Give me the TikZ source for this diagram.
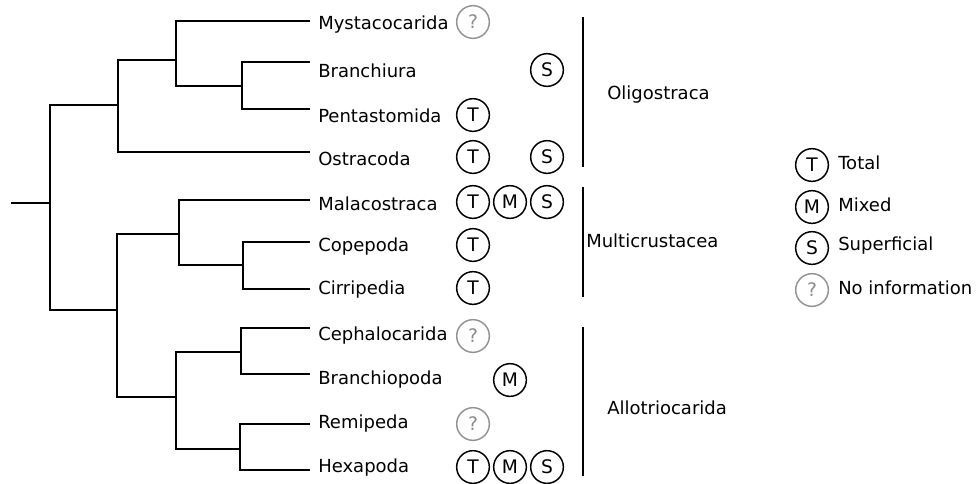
\documentclass[tikz,border=0pt]{standalone}
\usepackage{fontspec}
\setmainfont{DejaVu Sans}
\begin{document}
\begin{tikzpicture}[x=0.75pt,y=-0.75pt,
  tree/.style={line width=1.5pt,line cap=rect},
  taxon/.style={anchor=west,inner sep=0pt,font=\fontsize{13.5}{16}\selectfont},
  mk/.style={circle,draw,line width=1.1pt,minimum size=24.5pt,inner sep=0pt,font=\fontsize{14}{16}\selectfont},
  unk/.style={mk,draw=gray!85,text=gray!90},
  bar/.style={line width=2.2pt},
  clade/.style={anchor=west,inner sep=0pt,font=\fontsize{13.5}{16}\selectfont},
  leg/.style={anchor=west,inner sep=0pt,font=\fontsize{13.5}{16}\selectfont}]
\useasboundingbox (0,0) rectangle (977,483);
% tree coordinates
\coordinate (rt) at (12,203);
\coordinate (n0) at (50,203);
\coordinate (O) at (118,105);
\coordinate (Pc) at (117,310);
\coordinate (A) at (176,60);
\coordinate (B) at (242,86);
\coordinate (Mc) at (179,234);
\coordinate (MM) at (243,265);
\coordinate (Al) at (176,397);
\coordinate (Al1) at (241,352);
\coordinate (Al2) at (240,449);
\coordinate (lMys) at (309,21);
\coordinate (lBra) at (309,62);
\coordinate (lPen) at (309,109);
\coordinate (lOst) at (309,152);
\coordinate (lMal) at (309,200);
\coordinate (lCop) at (309,242);
\coordinate (lCir) at (309,289);
\coordinate (lCep) at (309,328);
\coordinate (lBrp) at (309,374);
\coordinate (lRem) at (309,424);
\coordinate (lHex) at (309,470);
% tree
\draw[tree] (rt) -- (n0);
\draw[tree] (n0) |- (O);
\draw[tree] (n0) |- (Pc);
\draw[tree] (O) |- (A);
\draw[tree] (O) |- (lOst);
\draw[tree] (A) |- (lMys);
\draw[tree] (A) |- (B);
\draw[tree] (B) |- (lBra);
\draw[tree] (B) |- (lPen);
\draw[tree] (Pc) |- (Mc);
\draw[tree] (Pc) |- (Al);
\draw[tree] (Mc) |- (lMal);
\draw[tree] (Mc) |- (MM);
\draw[tree] (MM) |- (lCop);
\draw[tree] (MM) |- (lCir);
\draw[tree] (Al) |- (Al1);
\draw[tree] (Al) |- (Al2);
\draw[tree] (Al1) |- (lCep);
\draw[tree] (Al1) |- (lBrp);
\draw[tree] (Al2) |- (lRem);
\draw[tree] (Al2) |- (lHex);
% taxa
\node[taxon] (Mys) at (318,25) {Mystacocarida};
\node[taxon] (Bra) at (318,71) {Branchiura};
\node[taxon] (Pen) at (318,116) {Pentastomida};
\node[taxon] (Ost) at (318,159) {Ostracoda};
\node[taxon] (Mal) at (318,204) {Malacostraca};
\node[taxon] (Cop) at (318,247) {Copepoda};
\node[taxon] (Cir) at (318,290) {Cirripedia};
\node[taxon] (Cep) at (318,336) {Cephalocarida};
\node[taxon] (Brp) at (318,380) {Branchiopoda};
\node[taxon] (Rem) at (318,424) {Remipeda};
\node[taxon] (Hex) at (318,468) {Hexapoda};
% marks
\node[unk] (mMys) at (473,22) {?};
\node[mk] (sBra) at (547,70) {S};
\node[mk] (tPen) at (473,115) {T};
\node[mk] (tOst) at (473,157) {T};
\node[mk] (sOst) at (547,157) {S};
\node[mk] (tMal) at (473,202) {T};
\node[mk] (mMal) at (510,202) {M};
\node[mk] (sMal) at (547,202) {S};
\node[mk] (tCop) at (473,245) {T};
\node[mk] (tCir) at (473,288) {T};
\node[unk] (uCep) at (473,336) {?};
\node[mk] (mBrp) at (510,380) {M};
\node[unk] (uRem) at (473,424) {?};
\node[mk] (tHex) at (473,467) {T};
\node[mk] (mHex) at (510,467) {M};
\node[mk] (sHex) at (547,467) {S};
% clade bars
\coordinate (b1t) at (583,17);
\coordinate (b1b) at (583,167);
\coordinate (b2t) at (583,187);
\coordinate (b2b) at (583,297);
\coordinate (b3t) at (583,327);
\coordinate (b3b) at (583,476);
\draw[bar] (b1t) -- (b1b);
\draw[bar] (b2t) -- (b2b);
\draw[bar] (b3t) -- (b3b);
\node[clade] (Oli) at (607,95) {Oligostraca};
\node[clade] (Mul) at (586,241) {Multicrustacea};
\node[clade] (All) at (607,408) {Allotriocarida};
% legend
\node[mk] (lgT) at (812,165) {T};
\node[mk] (lgM) at (812,207) {M};
\node[mk] (lgS) at (812,248) {S};
\node[unk] (lgU) at (812,290) {?};
\node[leg] (tT) at (838,163) {Total};
\node[leg] (tM) at (838,205) {Mixed};
\node[leg] (tS) at (838,246) {Superficial};
\node[leg] (tU) at (838,288) {No information};
\end{tikzpicture}
\end{document}
